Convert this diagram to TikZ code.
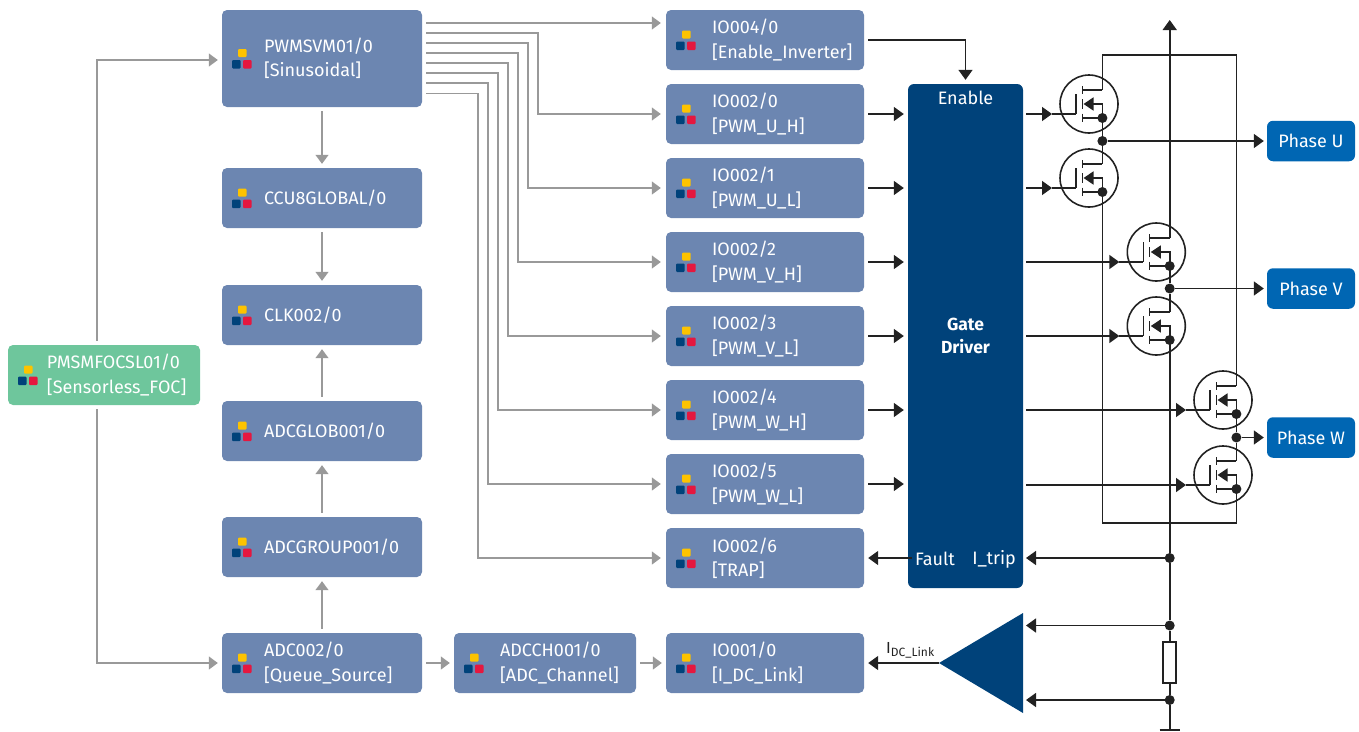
\documentclass[tikz,border=0pt]{standalone}
\usepackage{fontspec}
\setmainfont{Fira Sans}
\usetikzlibrary{arrows.meta,calc}
\definecolor{modblue}{HTML}{6C86B1}
\definecolor{modgreen}{HTML}{6EC69C}
\definecolor{gatecol}{HTML}{00427A}
\definecolor{phasecol}{HTML}{0066B3}
\definecolor{icy}{HTML}{FDC300}
\definecolor{icb}{HTML}{00427A}
\definecolor{icr}{HTML}{E5173F}
\definecolor{gline}{HTML}{999999}
\definecolor{bline}{HTML}{222222}
\tikzset{
  x=1pt,y=-1pt,
  txt/.style={text=white,font=\fontsize{18}{24.2}\selectfont},
  modbox/.style={fill=modblue,rounded corners=5pt,inner xsep=0,inner ysep=0,align=left,txt},
  gbox/.style={fill=gatecol,rounded corners=6pt,inner sep=0,align=center,text=white,font=\fontsize{17.5}{23}\selectfont},
  phasebox/.style={fill=phasecol,rounded corners=6pt,inner sep=0,align=center,txt,minimum width=88pt,minimum height=40.5pt},
  garrow/.style={gline,line width=1.5pt,-{Triangle[length=9pt,width=13pt]}},
  gwire/.style={gline,line width=1.5pt},
  barrow/.style={bline,line width=1.6pt,-{Triangle[length=10pt,width=14pt]}},
  bwire/.style={bline,line width=1.6pt},
  junction/.style={circle,fill=bline,inner sep=0,minimum size=10pt},
  mos/.style={circle,draw=bline,line width=1.6pt,inner sep=0,minimum size=58pt},
  plain/.style={inner sep=0,txt},
}
% #1 indent, #2 name, #3..#6 x1,y1,x2,y2, #7 fill, #8 line1 \\ line2
\newcommand{\modnode}[8]{%
  \pgfmathsetmacro{\mw}{#5-#3}%
  \pgfmathsetmacro{\mh}{#6-#4}%
  \def\IL{\hspace*{#1pt}}%
  \node[modbox,fill=#7,text width=\mw pt,minimum height=\mh pt] (#2) at ({(#3+#5)/2},{(#4+#6)/2}) {\vphantom{}#8};
  \pgfmathsetmacro{\ym}{(#4+#6)/2}%
  \fill[icy,rounded corners=1pt] (#3+16,\ym-9.5) rectangle (#3+24.5,\ym-1.5);
  \fill[icb,rounded corners=1pt] (#3+10,\ym+1.5) rectangle (#3+18.5,\ym+10);
  \fill[icr,rounded corners=1pt] (#3+21,\ym+1.5) rectangle (#3+29.5,\ym+10);
}
% #1 name, #2 cx, #3 cy
\newcommand{\mosfet}[3]{%
  \node[mos] (#1) at (#2,#3) {};
  \coordinate (#1-g) at (#2-13,#3+10);
  \coordinate (#1-d) at (#2+13.4,#3-14);
  \coordinate (#1-s) at (#2+13.4,#3+14);
  \coordinate (#1-t) at (#2-37,#3+10);
  \draw[bwire] (#2-13,#3-10) -- (#1-g);
  \draw[bwire] (#2-6.7,#3-18) -- (#2-6.7,#3-10.5);
  \draw[bwire] (#2-6.7,#3-5) -- (#2-6.7,#3+5);
  \draw[bwire] (#2-6.7,#3+9.5) -- (#2-6.7,#3+18);
  \draw[bwire] (#2-6.7,#3-14) -- (#1-d);
  \draw[bwire] (#2-6.7,#3+14) -- (#1-s);
  \draw[bline,line width=1.6pt,-{Triangle[length=10pt,width=13pt]}] (#1-s) -- (#2+13.4,#3) -- (#2-5.5,#3);
  \node[junction] (#1-j) at (#1-s) {};
}
\begin{document}
\begin{tikzpicture}
\useasboundingbox (0,0) rectangle (1359,731);
% left column
\modnode{42}{pwm}{222}{10}{422}{107}{modblue}{\IL PWMSVM01/0\\\IL [Sinusoidal]}
\modnode{42}{ccu}{222}{168}{422}{228}{modblue}{\IL CCU8GLOBAL/0}
\modnode{42}{clk}{222}{285}{422}{345}{modblue}{\IL CLK002/0}
\modnode{42}{glob}{222}{401}{422}{461}{modblue}{\IL ADCGLOB001/0}
\modnode{42}{grp}{222}{517}{422}{577}{modblue}{\IL ADCGROUP001/0}
\modnode{42}{adc}{222}{633}{422}{693}{modblue}{\IL ADC002/0\\\IL [Queue\_Source]}
\modnode{46}{ach}{454}{633}{636}{693}{modblue}{\IL ADCCH001/0\\\IL [ADC\_Channel]}
\modnode{39}{foc}{8}{345}{200}{405}{modgreen}{\IL PMSMFOCSL01/0\\\IL [Sensorless\_FOC]}
% IO column
\modnode{46}{ioe}{666}{10}{864}{70}{modblue}{\IL IO004/0\\\IL [Enable\_Inverter]}
\modnode{46}{ioa}{666}{84}{864}{144}{modblue}{\IL IO002/0\\\IL [PWM\_U\_H]}
\modnode{46}{iob}{666}{158}{864}{218}{modblue}{\IL IO002/1\\\IL [PWM\_U\_L]}
\modnode{46}{ioc}{666}{232}{864}{292}{modblue}{\IL IO002/2\\\IL [PWM\_V\_H]}
\modnode{46}{iod}{666}{306}{864}{366}{modblue}{\IL IO002/3\\\IL [PWM\_V\_L]}
\modnode{46}{iof}{666}{380}{864}{440}{modblue}{\IL IO002/4\\\IL [PWM\_W\_H]}
\modnode{46}{iog}{666}{454}{864}{514}{modblue}{\IL IO002/5\\\IL [PWM\_W\_L]}
\modnode{46}{ioh}{666}{528}{864}{588}{modblue}{\IL IO002/6\\\IL [TRAP]}
\modnode{46}{ioi}{666}{633}{864}{693}{modblue}{\IL IO001/0\\\IL [I\_DC\_Link]}
% gate driver
\node[gbox,minimum width=115pt,minimum height=504pt] (gate) at (965.5,336) {\textbf{Gate}\\\textbf{Driver}};
\node[plain] (en) at (965.5,98) {Enable};
\node[plain] (fault) at (935,559) {Fault};
\node[plain] (itrip) at (994,559) {I\_trip};
% phases
\node[phasebox] (pu) at (1311,141) {Phase U};
\node[phasebox] (pv) at (1311,288.5) {Phase V};
\node[phasebox] (pw) at (1311,437.5) {Phase W};
% grey wiring
\draw[garrow] ([shift={(4,-35.5)}]pwm.east) -- ([shift={(-5,-17)}]ioe.west);
\draw[garrow] ([shift={(4,-25.5)}]pwm.east) -- ++(112,0) |- ([xshift=-5pt]ioa.west);
\draw[garrow] ([shift={(4,-15.5)}]pwm.east) -- ++(102,0) |- ([xshift=-5pt]iob.west);
\draw[garrow] ([shift={(4,-5.5)}]pwm.east) -- ++(92,0) |- ([xshift=-5pt]ioc.west);
\draw[garrow] ([shift={(4,4.5)}]pwm.east) -- ++(82,0) |- ([xshift=-5pt]iod.west);
\draw[garrow] ([shift={(4,14.5)}]pwm.east) -- ++(72,0) |- ([xshift=-5pt]iof.west);
\draw[garrow] ([shift={(4,24.5)}]pwm.east) -- ++(62,0) |- ([xshift=-5pt]iog.west);
\draw[garrow] ([shift={(4,35)}]pwm.east) -- ++(52,0) |- ([xshift=-5pt]ioh.west);
\draw[garrow] ([yshift=-4pt]pwm.south) -- ([yshift=4pt]ccu.north);
\draw[garrow] ([yshift=-4pt]ccu.south) -- ([yshift=4pt]clk.north);
\draw[garrow] ([yshift=4pt]glob.north) -- ([yshift=-4pt]clk.south);
\draw[garrow] ([yshift=4pt]grp.north) -- ([yshift=-4pt]glob.south);
\draw[garrow] ([yshift=4pt]adc.north) -- ([yshift=-4pt]grp.south);
\draw[garrow] ([xshift=4pt]adc.east) -- ([xshift=-4pt]ach.west);
\draw[garrow] ([xshift=4pt]ach.east) -- ([xshift=-4pt]ioi.west);
\draw[garrow] ([shift={(-7,-4)}]foc.north) |- ([shift={(-4,1.5)}]pwm.west);
\draw[garrow] ([shift={(-7,4)}]foc.south) |- ([xshift=-4pt]adc.west);
% black wiring to gate
\draw[barrow] ([xshift=4pt]ioe.east |- ioe.east) -| ([yshift=4pt]gate.north);
\foreach \n in {ioa,iob,ioc,iod,iof,iog}{
  \draw[barrow] ([xshift=4pt]\n.east) -- ([xshift=-4pt]gate.west |- \n.east);
}
% MOSFETs
\mosfet{qa}{1089}{104}
\mosfet{qb}{1089}{178}
\mosfet{qc}{1156.3}{252}
\mosfet{qd}{1156.3}{326}
\mosfet{qe}{1223}{400}
\mosfet{qf}{1223}{475}
\foreach \q/\i in {qa/ioa,qb/iob,qc/ioc,qd/iod,qe/iof,qf/iog}{
  \draw[barrow] ([xshift=3pt]gate.east |- \q-g) -- (\q-t);
  \draw[bwire] (\q-t) -- (\q-g);
}
% junctions
\node[junction] (ju) at (1102.4,141) {};
\node[junction] (jv) at (1169.7,288.5) {};
\node[junction] (jw) at (1236.4,437.5) {};
\node[junction] (jt) at (1169.7,558) {};
\node[junction] (jh) at (1169.7,625.5) {};
\node[junction] (jl) at (1169.7,700) {};
\node[draw=bline,line width=1.6pt,fill=white,minimum width=13pt,minimum height=41pt,inner sep=0] (shunt) at (1169.7,662.5) {};
\coordinate (vdd) at (1169.7,20);
\coordinate (gnd) at (1169.7,729.5);
\coordinate (busl) at (1102.4,55);
\coordinate (busr) at (1236.4,55);
\coordinate (bot) at (1102.4,523);
\coordinate (botr) at (1236.4,523);
% phase legs
\draw[bwire] (qa-d) -- (busl) -- (busr) -- (qe-d);
\draw[bwire] (qa-s) -- (ju) -- (qb-d);
\draw[bwire] (qc-s) -- (jv) -- (qd-d);
\draw[bwire] (qe-s) -- (jw) -- (qf-d);
\draw[bwire] (qb-s) -- (bot) -- (botr) -- (qf-s);
\draw[barrow] (ju) -- ([xshift=-3pt]pu.west);
\draw[barrow] (jv) -- ([xshift=-3pt]pv.west);
\draw[barrow] (jw) -- ([xshift=-3pt]pw.west);
% rail
\draw[barrow] (qc-d) -- (vdd);
\draw[bwire] (qd-s) -- (jt) -- (jh) -- (shunt.north);
\draw[bwire] (shunt.south) -- (jl) -- (gnd);
\draw[bline,line width=2pt] ([xshift=-10pt]gnd) -- ([xshift=10pt]gnd);
% current sense
\coordinate (ampt) at (939,663);
\coordinate (ampa) at (1023,613);
\coordinate (ampb) at (1023,713);
\fill[gatecol] (ampt) -- (ampa) -- (ampb) -- cycle;
\coordinate (ampi) at (1026,625.5);
\coordinate (ampj) at (1026,700);
\coordinate (gtrip) at (1026,558);
\draw[barrow] (jt) -- (gtrip);
\draw[barrow] (jh) -- (ampi);
\draw[barrow] (jl) -- (ampj);
\draw[barrow] ([xshift=-3pt]fault.west |- ioh.east) -- ([xshift=4pt]ioh.east);
\draw[barrow] (ampt) -- ([xshift=4pt]ioi.east);
\node[inner sep=0,text=bline,font=\fontsize{16}{18}\selectfont,anchor=base west] (idc) at (886,653) {I\raisebox{-3.5pt}{\fontsize{12}{14}\selectfont DC\_Link}};
\end{tikzpicture}
\end{document}
